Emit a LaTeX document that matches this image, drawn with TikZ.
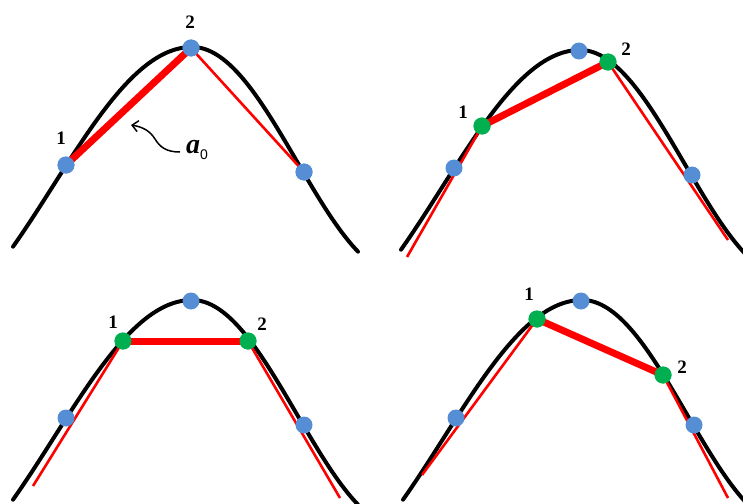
\documentclass[tikz,border=0pt]{standalone}
\usepackage{fontspec}
\setmainfont{Liberation Serif}
\setsansfont{Liberation Sans}
\usetikzlibrary{arrows.meta}
\definecolor{dotblue}{RGB}{85,142,213}
\definecolor{dotgreen}{RGB}{0,176,80}
\definecolor{linered}{RGB}{255,0,0}
\tikzset{
  hump/.pic={\draw[line width=4pt,black,line cap=round,line join=round]
     plot[domain=-179:0,samples=60] ({192+\x},{47+139*(1-cos(0.6474*\x))})
     -- plot[domain=0:166,samples=60] ({192+\x},{47+114*(1-cos(0.8594*\x))});},
  thinred/.style={line width=2.6pt,linered},
  thickred/.style={line width=7pt,linered},
  bluedot/.style={circle,fill=dotblue,inner sep=0pt,minimum size=17pt},
  greendot/.style={circle,fill=dotgreen,inner sep=0pt,minimum size=17pt},
  lbl/.style={font=\fontsize{19}{19}\selectfont\bfseries,inner sep=0pt}
}
\begin{document}
\begin{tikzpicture}[x=1pt,y=-1pt]
\useasboundingbox (0,0) rectangle (743,503);
% ---------- panel 1 ----------
\begin{scope}
  \pic at (0,0) {hump};
  \node[bluedot] (pAb1) at (66,165) {};
  \node[bluedot] (pAb2) at (191,48) {};
  \node[bluedot] (pAb3) at (304,172) {};
  \draw[thickred] (pAb1.center) -- (pAb2.center);
  \draw[thinred] (pAb2.center) -- (pAb3.center);
  \node[bluedot] at (pAb1.center) {};
  \node[bluedot] at (pAb2.center) {};
  \node[bluedot] at (pAb3.center) {};
  \node[lbl] (pAl1) at (61,138) {1};
  \node[lbl] (pAl2) at (190,22) {2};
  \node[anchor=base west,inner sep=0pt] (aLbl) at (186,153)
    {\fontsize{28}{28}\selectfont\bfseries\itshape a\raisebox{-6pt}{\sffamily\mdseries\upshape\fontsize{14}{14}\selectfont 0}};
  \coordinate (aStart) at (180,152);
  \coordinate (aTip) at (131,125);
  \draw[line width=1.5pt,-{Straight Barb[length=6pt,width=11pt]}]
    (aStart) .. controls (166,152) and (160,147) .. (155,139)
    .. controls (150,131) and (143,127) .. (aTip);
\end{scope}
% ---------- panel 2 ----------
\begin{scope}[shift={(388,3)}]
  \pic at (0,0) {hump};
  \coordinate (pBs) at (19,254);
  \coordinate (pBe) at (340,237);
  \node[greendot] (pBg1) at (94,123) {};
  \node[greendot] (pBg2) at (220,59) {};
  \draw[thinred] (pBs) -- (pBg1.center);
  \draw[thickred] (pBg1.center) -- (pBg2.center);
  \draw[thinred] (pBg2.center) -- (pBe);
  \node[bluedot] (pBb1) at (66,165) {};
  \node[bluedot] (pBb2) at (191,48) {};
  \node[bluedot] (pBb3) at (304,172) {};
  \node[greendot] at (pBg1.center) {};
  \node[greendot] at (pBg2.center) {};
  \node[lbl] (pBl1) at (75,109) {1};
  \node[lbl] (pBl2) at (238,46) {2};
\end{scope}
% ---------- panel 3 ----------
\begin{scope}[shift={(0,253)}]
  \pic at (0,0) {hump};
  \coordinate (pCs) at (33,233);
  \coordinate (pCe) at (340,245);
  \node[greendot] (pCg1) at (123,88) {};
  \node[greendot] (pCg2) at (248,88) {};
  \draw[thinred] (pCs) -- (pCg1.center);
  \draw[thickred] (pCg1.center) -- (pCg2.center);
  \draw[thinred] (pCg2.center) -- (pCe);
  \node[bluedot] (pCb1) at (66,165) {};
  \node[bluedot] (pCb2) at (191,48) {};
  \node[bluedot] (pCb3) at (304,172) {};
  \node[greendot] at (pCg1.center) {};
  \node[greendot] at (pCg2.center) {};
  \node[lbl] (pCl1) at (113,69) {1};
  \node[lbl] (pCl2) at (262,71) {2};
\end{scope}
% ---------- panel 4 ----------
\begin{scope}[shift={(390,253)}]
  \pic at (0,0) {hump};
  \coordinate (pDs) at (32,222);
  \coordinate (pDe) at (338,245);
  \node[greendot] (pDg1) at (147,66) {};
  \node[greendot] (pDg2) at (273,122) {};
  \draw[thinred] (pDs) -- (pDg1.center);
  \draw[thickred] (pDg1.center) -- (pDg2.center);
  \draw[thinred] (pDg2.center) -- (pDe);
  \node[bluedot] (pDb1) at (66,165) {};
  \node[bluedot] (pDb2) at (191,48) {};
  \node[bluedot] (pDb3) at (304,172) {};
  \node[greendot] at (pDg1.center) {};
  \node[greendot] at (pDg2.center) {};
  \node[lbl] (pDl1) at (139,41) {1};
  \node[lbl] (pDl2) at (292,114) {2};
\end{scope}
\end{tikzpicture}
\end{document}
